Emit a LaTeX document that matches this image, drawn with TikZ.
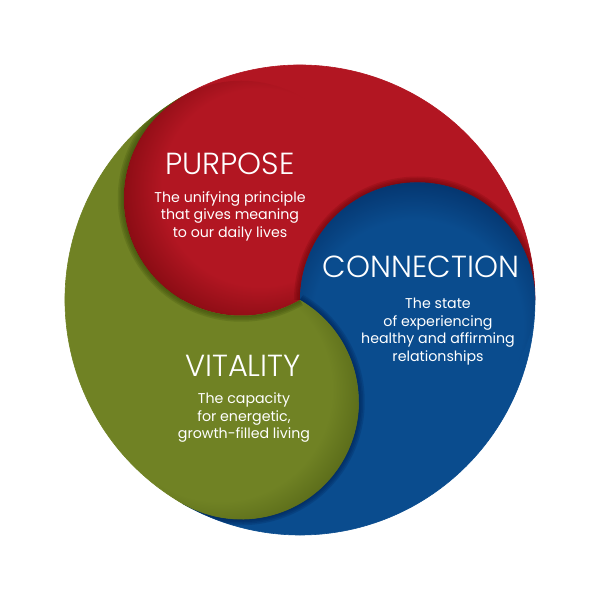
\documentclass[tikz,border=0pt]{standalone}
\usepackage{fontspec}
\setmainfont{Poppins}
\newfontfamily\headfont{Poppins Light}
\definecolor{purposered}{RGB}{178,22,34}
\definecolor{purposeshade}{RGB}{110,5,10}
\definecolor{connblue}{RGB}{10,76,142}
\definecolor{connshade}{RGB}{0,34,84}
\definecolor{vitalgreen}{RGB}{112,130,36}
\definecolor{vitalshade}{RGB}{60,76,10}
\pgfdeclareradialshading[lobebase,lobeshade]{lobe}{\pgfpoint{7bp}{4bp}}{color(0bp)=(lobebase); color(21bp)=(lobebase); color(34bp)=(lobeshade); color(50bp)=(lobeshade)}
% the red third of the disc; the other two are the same turned by 120 degrees
\newcommand\regionpath{(0,0) arc[start angle=300,end angle=120,radius=117.5]
    arc[start angle=120,end angle=0,radius=235] arc[start angle=0,end angle=180,radius=117.5] -- cycle}
\newcommand\edgearc{(235,0) arc[start angle=0,end angle=180,radius=117.5]}

\begin{document}
\begin{tikzpicture}[x=1pt,y=1pt,
    heading/.style={text=white,font=\headfont\fontsize{30.5}{33}\selectfont},
    blurb/.style={text=white,align=center,font=\fontsize{14.2}{17.5}\selectfont}]
    \useasboundingbox (-300,-300) rectangle (300,300);
    \foreach \ang/\base in {0/purposered,-120/connblue,120/vitalgreen}
        \fill[\base,draw=\base,line width=.6pt,rotate=\ang] \regionpath;
    \foreach \ang/\base/\dk in {0/purposered/purposeshade,-120/connblue/connshade,120/vitalgreen/vitalshade}{
        \begin{scope}[rotate=\ang]
            \clip \regionpath;
            \colorlet{lobebase}{\base}\colorlet{lobeshade}{\dk}
            \shade[shading=lobe,shading angle=\ang] (120:117.5) circle[radius=117.5];
            \foreach \w in {3,6,9,12}
                \draw[\dk,line width=\w pt,opacity=.22] \edgearc;
        \end{scope}}
    \node[heading] (purpose) at (-70,136) {PURPOSE};
    \node[blurb] (purpose text) at (-70,84) {The unifying principle\\that gives meaning\\to our daily lives};
    \node[heading] (connection) at (121,33) {CONNECTION};
    \node[blurb] (connection text) at (138,-31.5) {The state\\of experiencing\\healthy and affirming\\relationships};
    \node[heading] (vitality) at (-57,-66) {VITALITY};
    \node[blurb] (vitality text) at (-56,-118) {The capacity\\for energetic,\\growth-filled living};
\end{tikzpicture}
\end{document}
